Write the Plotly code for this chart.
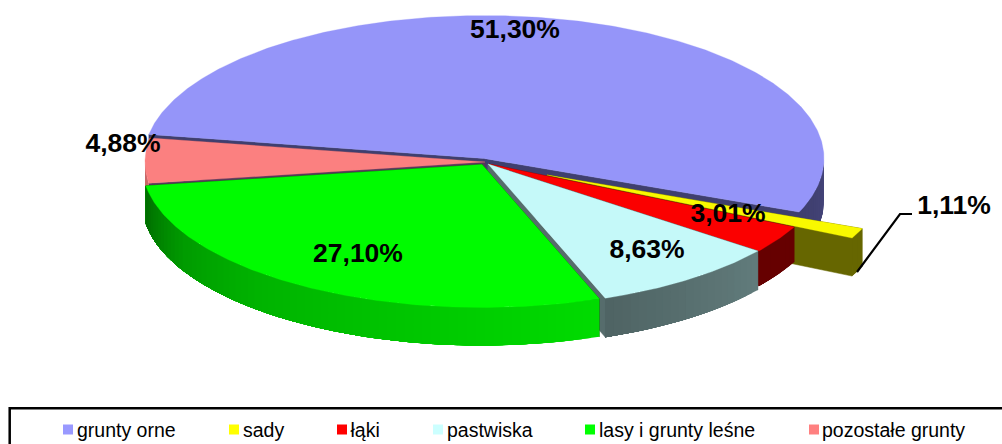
import numpy as np
import plotly.graph_objects as go

# --- data ---
categories = ["grunty orne", "sady", "łąki", "pastwiska", "lasy i grunty leśne", "pozostałe grunty"]
values = [51.30, 1.11, 3.01, 8.63, 27.10, 4.88]
value_labels = ["51,30%", "1,11%", "3,01%", "8,63%", "27,10%", "4,88%"]

# --- style / layout ---
top_colors = ["#9595F9", "#F9F900", "#FB0000", "#C5F9F9", "#00FB00", "#FB8080"]
legend_colors = ["#9999FF", "#FFFF00", "#FF0000", "#CCFFFF", "#00FF00", "#FF8080"]
wall_colors = ["#3F3F6E", "#666600", "#660000", "#566C6C", "#007000", "#55385A"]
rim_stops = [
    [(0, "#3F3F6E"), (1, "#45457A")],
    [(0, "#666600"), (1, "#666600")],
    [(0, "#660000"), (1, "#660000")],
    [(0, "#4F6464"), (1, "#627C7C")],
    [(0, "#006C00"), (0.2, "#009C00"), (0.4, "#00B400"), (1, "#00DC00")],
    [(0, "#C86868"), (1, "#C86868")],
]
apex_x = [484, 547, 489, 488, 482, 485]
apex_y = [158.5, 175, 164, 164, 164.5, 162]
depths = [42, 38, 35, 39, 38, 38]
RX, RY = 340, 143
START_DEG = 170.3
draw_order = [0, 5, 1, 2, 3, 4]

label_x = [515, 954, 728, 647, 358, 123]
label_y = [31.5, 207, 215.5, 251.5, 255.5, 145.5]
legend_mark_x = [68, 234, 342, 438, 590, 814]
legend_text_x = [77, 243, 350.5, 447, 599, 822]
legend_y = 429.5
legend_text_y = 432


def hex_rgb(c):
    return np.array([int(c[i:i + 2], 16) for i in (1, 3, 5)], float)


def mix(stops, f):
    for (a, ca), (b, cb) in zip(stops, stops[1:]):
        if f <= b:
            w = (f - a) / (b - a)
            r = hex_rgb(ca) * (1 - w) + hex_rgb(cb) * w
            return "rgb(%d,%d,%d)" % tuple(r)
    return stops[-1][1]


def poly(xs, ys, color, line_w=0.7):
    return go.Scatter(x=xs, y=ys, mode="lines", fill="toself", fillcolor=color,
                      line=dict(color=color, width=line_w), hoverinfo="skip", showlegend=False)


fig = go.Figure()
total = sum(values)
spans = [v / total * 360 for v in values]
ends = START_DEG - np.cumsum(spans)
starts = ends + np.array(spans)

for i in draw_order:
    ax, ay, d = apex_x[i], apex_y[i], depths[i]
    t0, t1 = starts[i], ends[i]

    def rim(t):
        r = np.radians(t)
        return ax + RX * np.cos(r), ay - RY * np.sin(r)

    # cut walls
    for t in (t0, t1):
        x, y = rim(t)
        fig.add_trace(poly([ax, x, x, ax, ax], [ay, y, y + d, ay + d, ay], wall_colors[i], 0.5))
    # outer rim side: only the front-facing part, drawn left to right with overlap
    # so neighbouring shades leave no seams
    lo, hi = t1, t0
    if hi > 0 > lo:
        hi = 0.0
    if lo < -180 < hi:
        lo = -180.0
    n = max(2, int((hi - lo) / 1.5))
    grid = np.linspace(lo, hi, n + 1)
    for k in range(n - 1, -1, -1):
        ts = np.linspace(grid[0], grid[k + 1], 3 + 2 * k)
        x, y = rim(ts)
        col = mix(rim_stops[i], (k + 0.5) / n)
        fig.add_trace(poly(list(x) + list(x[::-1]), list(y) + list((y + d)[::-1]), col, 0))
    # top face
    ts = np.linspace(t0, t1, max(8, int((t0 - t1) * 2)))
    x, y = rim(ts)
    fig.add_trace(poly([ax] + list(x) + [ax], [ay] + list(y) + [ay], top_colors[i], 0.3))

# value labels
fig.add_trace(go.Scatter(x=label_x, y=label_y, text=value_labels, mode="text", textposition="middle center",
                         textfont=dict(family="Liberation Sans, Arial", size=26.5, color="black", weight="bold"),
                         hoverinfo="skip", showlegend=False))

# legend
for cat, col, mx, tx in zip(categories, legend_colors, legend_mark_x, legend_text_x):
    fig.add_trace(go.Scatter(x=[mx], y=[legend_y], mode="markers",
                             marker=dict(symbol="square", size=10, color=col),
                             hoverinfo="skip", showlegend=False))
    fig.add_trace(go.Scatter(x=[tx], y=[legend_text_y], mode="text", text=[cat], textposition="middle right",
                             textfont=dict(family="Liberation Sans, Arial", size=19.5, color="black"),
                             hoverinfo="skip", showlegend=False))

# leader line for the exploded slice
fig.add_shape(type="path", path="M 857 272 L 900 214 L 912 214", line=dict(color="black", width=2.2))
# legend frame
fig.add_shape(type="rect", x0=9.7, x1=1020, y0=408.3, y1=470, line=dict(color="black", width=2.5))

fig.update_xaxes(range=[0, 1002], visible=False, fixedrange=True)
fig.update_yaxes(range=[444, 0], visible=False, fixedrange=True)
fig.update_layout(width=1002, height=444, margin=dict(l=0, r=0, t=0, b=0),
                  paper_bgcolor="white", plot_bgcolor="white", showlegend=False)
fig.write_html("out.html", config={"displayModeBar": False},
               post_script="document.body.style.margin='0';")
